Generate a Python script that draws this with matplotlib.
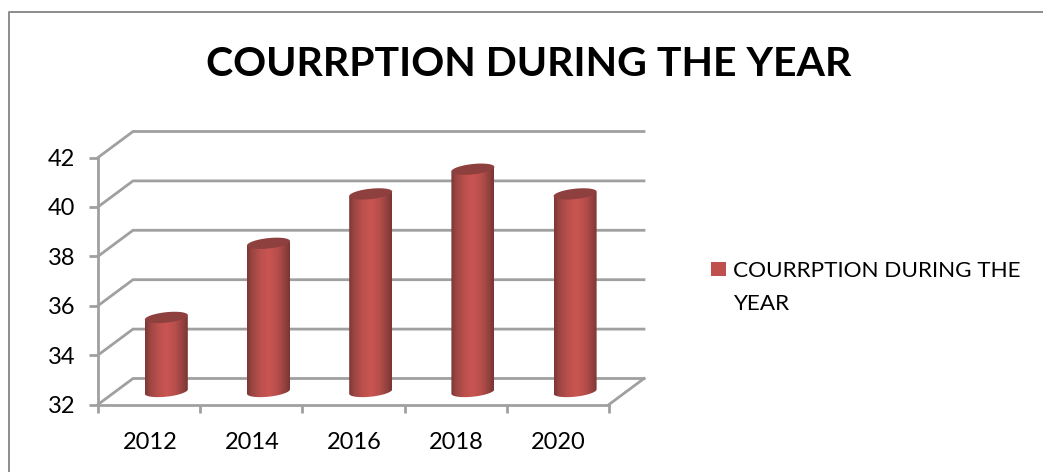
import numpy as np
import matplotlib.pyplot as plt
from matplotlib.colors import LinearSegmentedColormap
from matplotlib.patches import PathPatch, Rectangle
from matplotlib.path import Path

years = ['2012', '2014', '2016', '2018', '2020']
values = [35, 38, 40, 41, 40]
y_ticks = [32, 34, 36, 38, 40, 42]
title = 'COURRPTION DURING THE YEAR'
legend_lines = ['COURRPTION DURING THE', 'YEAR']

W, H = 1043, 472
GRID = '#a0a0a0'
plt.rcParams['font.family'] = ['Lato', 'DejaVu Sans']

# horizontal shading across a cylinder
shade = LinearSegmentedColormap.from_list('cyl', [
    (0.0, '#7b3634'), (0.12, '#9c4644'), (0.3, '#b94f4c'), (0.5, '#cb5552'),
    (0.72, '#b64e4b'), (0.9, '#8f403e'), (1.0, '#793533')])

fig = plt.figure(figsize=(W / 100, H / 100), dpi=100, facecolor='white')
ax = fig.add_axes([98 / W, (H - 404.5) / H, 511 / W, 247 / H])
ax.set_xlim(0, len(years))
ax.set_ylim(y_ticks[0], y_ticks[-1])
ax.set_facecolor('none')
for s in ax.spines.values():
    s.set_visible(False)

# pixel size of one data unit, the 3D depth is given in pixels
ux = 511 / len(years)
uy = 247 / (y_ticks[-1] - y_ticks[0])
depth_x = 35 / ux
depth_y = 26 / uy

# walls and floor
for v in y_ticks:
    ax.plot([0, depth_x, len(years) + depth_x], [v, v + depth_y, v + depth_y],
            color=GRID, lw=2, clip_on=False, solid_joinstyle='miter', zorder=1)
ax.plot([len(years), len(years) + depth_x], [y_ticks[0], y_ticks[0] + depth_y],
        color=GRID, lw=2, clip_on=False, zorder=1)
ax.plot([0, len(years)], [y_ticks[0], y_ticks[0]], color=GRID, lw=2, clip_on=False, zorder=1)
ax.plot([0, 0], [y_ticks[0], y_ticks[-1]], color=GRID, lw=2, clip_on=False, zorder=1)

ax.set_xticks(range(len(years) + 1))
ax.set_xticklabels([])
ax.set_yticks(y_ticks)
ax.set_yticklabels([str(v) for v in y_ticks], fontsize=17, color='black')
ax.tick_params(axis='y', length=6.5, width=2, color=GRID, pad=10)
ax.tick_params(axis='x', length=6, width=2, color=GRID)
for i, year in enumerate(years):
    ax.annotate(year, (i + 0.5, y_ticks[0]), xytext=(0.5, -19.5), textcoords='offset points',
                ha='center', va='top', fontsize=17, annotation_clip=False)

# cylinders
t = np.linspace(0, 2 * np.pi, 73)
half_w = 21.5 / ux
tilt = 2.2
for i, v in enumerate(values):
    cx = i + 0.5 + 17.2 / ux
    base = y_ticks[0] + 13 / uy
    top = v + 13 / uy
    ex = half_w * np.cos(t)
    ey = (tilt * np.cos(t) + 5.2 * np.sin(t)) / uy
    lower = t[36:]   # pi..2pi is the lower half of the outline
    low_x = cx + half_w * np.cos(lower)
    low_y = base + (tilt * np.cos(lower) + 5.2 * np.sin(lower)) / uy
    xs = np.r_[low_x, cx + half_w, cx - half_w]
    ys = np.r_[low_y, top + tilt / uy, top - tilt / uy]
    body = PathPatch(Path(np.c_[xs, ys]), fc='none', ec='none', transform=ax.transData)
    ax.add_patch(body)
    im = ax.imshow(np.linspace(0, 1, 128)[None, :], cmap=shade, aspect='auto',
                   extent=(cx - half_w, cx + half_w, base - 8 / uy, top + 4 / uy),
                   zorder=3, clip_on=True)
    im.set_clip_path(body)
    ax.fill(cx + ex, top + ey, color='#8e403e', lw=0, clip_on=False, zorder=4)
ax.set_xlim(0, len(years))
ax.set_ylim(y_ticks[0], y_ticks[-1])

fig.text(528.5 / W, 1 - 64 / H, title, fontsize=29.5, fontweight='bold', ha='center', va='center')

# legend
fig.add_artist(Rectangle((711 / W, 1 - 276 / H), 15 / W, 14 / H, transform=fig.transFigure,
                         fc='#c0504d', ec='none'))
fig.text(733 / W, 1 - 271 / H, legend_lines[0], fontsize=16.2, va='center')
fig.text(733 / W, 1 - 303.5 / H, legend_lines[1], fontsize=16.2, va='center')

# outer frame, only the left and top sides show
fig.add_artist(plt.Line2D([8.5 / W, 8.5 / W, 1], [0, 1 - 11.5 / H, 1 - 11.5 / H],
                          color='#8c8c8c', lw=1.4, transform=fig.transFigure))

fig.savefig('out.png', dpi=100)
